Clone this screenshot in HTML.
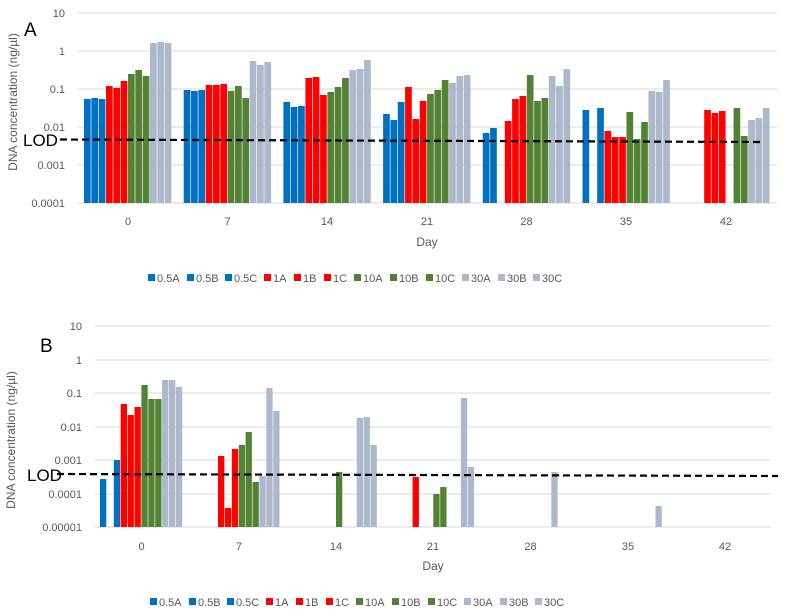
<!DOCTYPE html>
<html><head><meta charset="utf-8"><style>
body{margin:0;background:#fff;width:786px;height:615px;overflow:hidden}
svg{position:absolute;left:0;top:0}
text{font-family:"Liberation Sans",sans-serif;fill:#595959}
.b{fill:#0070C0}.r{fill:#FF0000}.g{fill:#548235}.s{fill:#ADB9CA}
.gl{stroke:#d9d9d9;stroke-width:1}
</style></head><body>
<svg width="786" height="615" viewBox="0 0 786 615">
<!-- Chart A -->
<g class="gl">
<line x1="78" x2="777" y1="13" y2="13"/><line x1="78" x2="777" y1="51" y2="51"/><line x1="78" x2="777" y1="89" y2="89"/><line x1="78" x2="777" y1="127" y2="127"/><line x1="78" x2="777" y1="165" y2="165"/><line x1="78" x2="777" y1="203" y2="203"/>
</g>
<g font-size="11" text-anchor="end">
<text x="65" y="17">10</text><text x="65" y="55">1</text><text x="65" y="93">0.1</text><text x="65" y="131">0.01</text><text x="65" y="169">0.001</text><text x="65" y="207">0.0001</text>
</g>
<text x="17" y="102" font-size="12" text-anchor="middle" transform="rotate(-90 17 102)">DNA concentration (ng/µl)</text>
<text x="24" y="36" font-size="19" style="fill:#000">A</text>
<g transform="translate(84,0)">
<rect class="b" x="0" y="99" width="6.7" height="104"/><rect class="b" x="7.33" y="98" width="6.7" height="105"/><rect class="b" x="14.67" y="99" width="6.7" height="104"/>
<rect class="r" x="22" y="86" width="6.7" height="117"/><rect class="r" x="29.33" y="88" width="6.7" height="115"/><rect class="r" x="36.67" y="81" width="6.7" height="122"/>
<rect class="g" x="44" y="74" width="6.7" height="129"/><rect class="g" x="51.33" y="70" width="6.7" height="133"/><rect class="g" x="58.67" y="76" width="6.7" height="127"/>
<rect class="s" x="66" y="43" width="6.7" height="160"/><rect class="s" x="73.33" y="42" width="6.7" height="161"/><rect class="s" x="80.67" y="43" width="6.7" height="160"/>
</g>
<g transform="translate(183.7,0)">
<rect class="b" x="0" y="90" width="6.7" height="113"/><rect class="b" x="7.33" y="91" width="6.7" height="112"/><rect class="b" x="14.67" y="90" width="6.7" height="113"/>
<rect class="r" x="22" y="85" width="6.7" height="118"/><rect class="r" x="29.33" y="85" width="6.7" height="118"/><rect class="r" x="36.67" y="84" width="6.7" height="119"/>
<rect class="g" x="44" y="91" width="6.7" height="112"/><rect class="g" x="51.33" y="86" width="6.7" height="117"/><rect class="g" x="58.67" y="98" width="6.7" height="105"/>
<rect class="s" x="66" y="61" width="6.7" height="142"/><rect class="s" x="73.33" y="65" width="6.7" height="138"/><rect class="s" x="80.67" y="62" width="6.7" height="141"/>
</g>
<g transform="translate(283.4,0)">
<rect class="b" x="0" y="102" width="6.7" height="101"/><rect class="b" x="7.33" y="107" width="6.7" height="96"/><rect class="b" x="14.67" y="106" width="6.7" height="97"/>
<rect class="r" x="22" y="78" width="6.7" height="125"/><rect class="r" x="29.33" y="77" width="6.7" height="126"/><rect class="r" x="36.67" y="95" width="6.7" height="108"/>
<rect class="g" x="44" y="92" width="6.7" height="111"/><rect class="g" x="51.33" y="87" width="6.7" height="116"/><rect class="g" x="58.67" y="78" width="6.7" height="125"/>
<rect class="s" x="66" y="70" width="6.7" height="133"/><rect class="s" x="73.33" y="69" width="6.7" height="134"/><rect class="s" x="80.67" y="60" width="6.7" height="143"/>
</g>
<g transform="translate(383.1,0)">
<rect class="b" x="0" y="114" width="6.7" height="89"/><rect class="b" x="7.33" y="120" width="6.7" height="83"/><rect class="b" x="14.67" y="102" width="6.7" height="101"/>
<rect class="r" x="22" y="87" width="6.7" height="116"/><rect class="r" x="29.33" y="119" width="6.7" height="84"/><rect class="r" x="36.67" y="101" width="6.7" height="102"/>
<rect class="g" x="44" y="94" width="6.7" height="109"/><rect class="g" x="51.33" y="90" width="6.7" height="113"/><rect class="g" x="58.67" y="80" width="6.7" height="123"/>
<rect class="s" x="66" y="83" width="6.7" height="120"/><rect class="s" x="73.33" y="76" width="6.7" height="127"/><rect class="s" x="80.67" y="75" width="6.7" height="128"/>
</g>
<g transform="translate(482.8,0)">
<rect class="b" x="0" y="133" width="6.7" height="70"/><rect class="b" x="7.33" y="128" width="6.7" height="75"/>
<rect class="r" x="22" y="121" width="6.7" height="82"/><rect class="r" x="29.33" y="99" width="6.7" height="104"/><rect class="r" x="36.67" y="96" width="6.7" height="107"/>
<rect class="g" x="44" y="75" width="6.7" height="128"/><rect class="g" x="51.33" y="101" width="6.7" height="102"/><rect class="g" x="58.67" y="98" width="6.7" height="105"/>
<rect class="s" x="66" y="76" width="6.7" height="127"/><rect class="s" x="73.33" y="86" width="6.7" height="117"/><rect class="s" x="80.67" y="69" width="6.7" height="134"/>
</g>
<g transform="translate(582.5,0)">
<rect class="b" x="0" y="110" width="6.7" height="93"/><rect class="b" x="14.67" y="108" width="6.7" height="95"/>
<rect class="r" x="22" y="131" width="6.7" height="72"/><rect class="r" x="29.33" y="137" width="6.7" height="66"/><rect class="r" x="36.67" y="137" width="6.7" height="66"/>
<rect class="g" x="44" y="112" width="6.7" height="91"/><rect class="g" x="51.33" y="139" width="6.7" height="64"/><rect class="g" x="58.67" y="122" width="6.7" height="81"/>
<rect class="s" x="66" y="91" width="6.7" height="112"/><rect class="s" x="73.33" y="92" width="6.7" height="111"/><rect class="s" x="80.67" y="80" width="6.7" height="123"/>
</g>
<g transform="translate(682.2,0)">
<rect class="r" x="22" y="110" width="6.7" height="93"/><rect class="r" x="29.33" y="113" width="6.7" height="90"/><rect class="r" x="36.67" y="111" width="6.7" height="92"/>
<rect class="g" x="51.33" y="108" width="6.7" height="95"/><rect class="g" x="58.67" y="136" width="6.7" height="67"/>
<rect class="s" x="66" y="120" width="6.7" height="83"/><rect class="s" x="73.33" y="118" width="6.7" height="85"/><rect class="s" x="80.67" y="108" width="6.7" height="95"/>
</g>
<line x1="60" y1="139.5" x2="762" y2="142" stroke="#000" stroke-width="2.2" stroke-dasharray="7,4"/>
<text x="23" y="146" font-size="17" style="fill:#000">LOD</text>
<g font-size="11" text-anchor="middle">
<text x="128" y="225">0</text><text x="227.5" y="225">7</text><text x="327" y="225">14</text><text x="427" y="225">21</text><text x="526.5" y="225">28</text><text x="626" y="225">35</text><text x="726" y="225">42</text>
<text x="427" y="246" font-size="12">Day</text>
</g>
<!-- Chart B -->
<g class="gl">
<line x1="95" x2="771" y1="326" y2="326"/><line x1="95" x2="771" y1="360" y2="360"/><line x1="95" x2="771" y1="393" y2="393"/><line x1="95" x2="771" y1="427" y2="427"/><line x1="95" x2="771" y1="460" y2="460"/><line x1="95" x2="771" y1="494" y2="494"/><line x1="95" x2="771" y1="527" y2="527"/>
</g>
<g font-size="11" text-anchor="end">
<text x="82" y="330">10</text><text x="82" y="364">1</text><text x="82" y="397">0.1</text><text x="82" y="431">0.01</text><text x="82" y="464">0.001</text><text x="82" y="498">0.0001</text><text x="82" y="531">0.00001</text>
</g>
<text x="15" y="440" font-size="12" text-anchor="middle" transform="rotate(-90 15 440)">DNA concentration (ng/µl)</text>
<text x="40" y="352" font-size="19" style="fill:#000">B</text>
<g transform="translate(100,0)">
<rect class="b" x="0" y="479" width="6.3" height="48"/><rect class="b" x="13.8" y="460" width="6.3" height="67"/>
<rect class="r" x="20.7" y="404" width="6.3" height="123"/><rect class="r" x="27.6" y="415" width="6.3" height="112"/><rect class="r" x="34.5" y="407" width="6.3" height="120"/>
<rect class="g" x="41.4" y="385" width="6.3" height="142"/><rect class="g" x="48.3" y="399" width="6.3" height="128"/><rect class="g" x="55.2" y="399" width="6.3" height="128"/>
<rect class="s" x="62.1" y="380" width="6.3" height="147"/><rect class="s" x="69" y="380" width="6.3" height="147"/><rect class="s" x="75.9" y="387" width="6.3" height="140"/>
</g>
<g transform="translate(197.3,0)">
<rect class="r" x="20.7" y="456" width="6.3" height="71"/><rect class="r" x="27.6" y="508" width="6.3" height="19"/><rect class="r" x="34.5" y="449" width="6.3" height="78"/>
<rect class="g" x="41.4" y="445" width="6.3" height="82"/><rect class="g" x="48.3" y="432" width="6.3" height="95"/><rect class="g" x="55.2" y="482" width="6.3" height="45"/>
<rect class="s" x="62.1" y="476" width="6.3" height="51"/><rect class="s" x="69" y="388" width="6.3" height="139"/><rect class="s" x="75.9" y="411" width="6.3" height="116"/>
</g>
<g transform="translate(294.6,0)">
<rect class="g" x="41.4" y="472" width="6.3" height="55"/>
<rect class="s" x="62.1" y="418" width="6.3" height="109"/><rect class="s" x="69" y="417" width="6.3" height="110"/><rect class="s" x="75.9" y="445" width="6.3" height="82"/>
</g>
<g transform="translate(391.9,0)">
<rect class="r" x="20.7" y="477" width="6.3" height="50"/>
<rect class="g" x="41.4" y="494" width="6.3" height="33"/><rect class="g" x="48.3" y="487" width="6.3" height="40"/>
<rect class="s" x="69" y="398" width="6.3" height="129"/><rect class="s" x="75.9" y="467" width="6.3" height="60"/>
</g>
<g transform="translate(489.2,0)"><rect class="s" x="62.1" y="472" width="6.3" height="55"/></g>
<g transform="translate(586.5,0)"><rect class="s" x="69" y="506" width="6.3" height="21"/></g>
<line x1="57" y1="474" x2="778" y2="476" stroke="#000" stroke-width="2.2" stroke-dasharray="7,4"/>
<text x="27" y="481" font-size="17" style="fill:#000">LOD</text>
<g font-size="11" text-anchor="middle">
<text x="141.5" y="550">0</text><text x="239" y="550">7</text><text x="336" y="550">14</text><text x="433" y="550">21</text><text x="530.5" y="550">28</text><text x="628" y="550">35</text><text x="725" y="550">42</text>
<text x="433" y="570" font-size="12">Day</text>
</g>
<!-- Legends -->
<g font-size="11">
<g transform="translate(0,282)">
<rect class="b" x="148" y="-8" width="7" height="7"/><text x="157" y="0">0.5A</text>
<rect class="b" x="187" y="-8" width="7" height="7"/><text x="196" y="0">0.5B</text>
<rect class="b" x="225" y="-8" width="7" height="7"/><text x="234" y="0">0.5C</text>
<rect class="r" x="264" y="-8" width="7" height="7"/><text x="273" y="0">1A</text>
<rect class="r" x="294" y="-8" width="7" height="7"/><text x="303" y="0">1B</text>
<rect class="r" x="324" y="-8" width="7" height="7"/><text x="333" y="0">1C</text>
<rect class="g" x="354" y="-8" width="7" height="7"/><text x="363" y="0">10A</text>
<rect class="g" x="390" y="-8" width="7" height="7"/><text x="399" y="0">10B</text>
<rect class="g" x="426" y="-8" width="7" height="7"/><text x="435" y="0">10C</text>
<rect class="s" x="462" y="-8" width="7" height="7"/><text x="471" y="0">30A</text>
<rect class="s" x="498" y="-8" width="7" height="7"/><text x="507" y="0">30B</text>
<rect class="s" x="533" y="-8" width="7" height="7"/><text x="542" y="0">30C</text>
</g>
<g transform="translate(2,606)">
<rect class="b" x="148" y="-8" width="7" height="7"/><text x="157" y="0">0.5A</text>
<rect class="b" x="187" y="-8" width="7" height="7"/><text x="196" y="0">0.5B</text>
<rect class="b" x="225" y="-8" width="7" height="7"/><text x="234" y="0">0.5C</text>
<rect class="r" x="264" y="-8" width="7" height="7"/><text x="273" y="0">1A</text>
<rect class="r" x="294" y="-8" width="7" height="7"/><text x="303" y="0">1B</text>
<rect class="r" x="324" y="-8" width="7" height="7"/><text x="333" y="0">1C</text>
<rect class="g" x="354" y="-8" width="7" height="7"/><text x="363" y="0">10A</text>
<rect class="g" x="390" y="-8" width="7" height="7"/><text x="399" y="0">10B</text>
<rect class="g" x="426" y="-8" width="7" height="7"/><text x="435" y="0">10C</text>
<rect class="s" x="462" y="-8" width="7" height="7"/><text x="471" y="0">30A</text>
<rect class="s" x="498" y="-8" width="7" height="7"/><text x="507" y="0">30B</text>
<rect class="s" x="533" y="-8" width="7" height="7"/><text x="542" y="0">30C</text>
</g>
</g>
</svg>
</body></html>
